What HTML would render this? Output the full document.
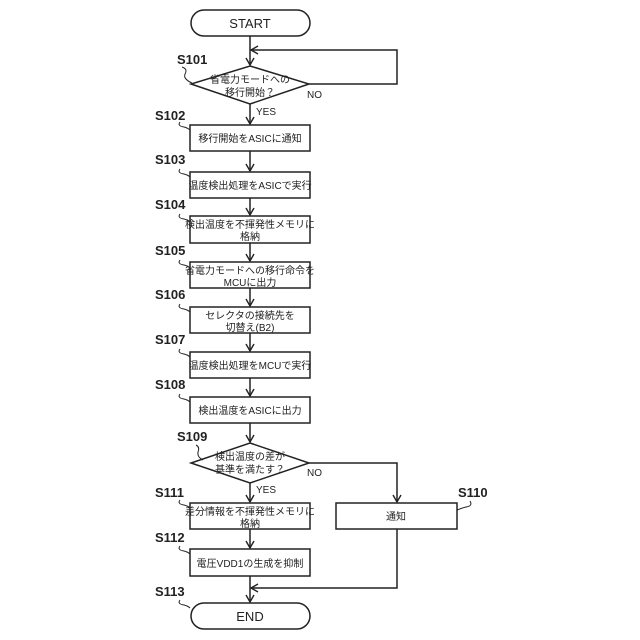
<!DOCTYPE html>
<html><head><meta charset="utf-8"><style>
html,body{margin:0;padding:0;background:#fff}
svg{display:block}
text{font-family:"Liberation Sans","Noto Sans CJK JP",sans-serif;fill:#222}
.t{font-size:10px;text-anchor:middle}
.l{font-size:13px;font-weight:bold}
.y{font-size:10px}
</style></head><body>
<svg width="640" height="640" viewBox="0 0 640 640" xmlns="http://www.w3.org/2000/svg">
<defs><marker id="a" markerWidth="10" markerHeight="10" refX="8" refY="5" orient="auto" markerUnits="userSpaceOnUse"><path d="M1,1 L8,5 L1,9" fill="none" stroke="#222" stroke-width="1.4"/></marker></defs>
<g fill="none" stroke="#222" stroke-width="1.5">
<rect x="191" y="10" width="119" height="26" rx="13"/>
<rect x="191" y="603" width="119" height="26" rx="13"/>
<polygon points="250,66 309,84 250,104 191,84"/>
<polygon points="250,443 309,463 250,483 191,463"/>
<rect x="190" y="125" width="120" height="26"/>
<rect x="190" y="172" width="120" height="26"/>
<rect x="190" y="216" width="120" height="27"/>
<rect x="190" y="262" width="120" height="26"/>
<rect x="190" y="307" width="120" height="26"/>
<rect x="190" y="352" width="120" height="26"/>
<rect x="190" y="397" width="120" height="26"/>
<rect x="190" y="503" width="120" height="26"/>
<rect x="190" y="549" width="120" height="27"/>
<rect x="336" y="503" width="121" height="26"/>
<path d="M250,36 V65" marker-end="url(#a)"/>
<path d="M309,84 H397 V50 H251" marker-end="url(#a)"/>
<path d="M250,104 V124" marker-end="url(#a)"/>
<path d="M250,151 V171" marker-end="url(#a)"/>
<path d="M250,198 V215" marker-end="url(#a)"/>
<path d="M250,243 V261" marker-end="url(#a)"/>
<path d="M250,288 V306" marker-end="url(#a)"/>
<path d="M250,333 V351" marker-end="url(#a)"/>
<path d="M250,378 V396" marker-end="url(#a)"/>
<path d="M250,423 V442" marker-end="url(#a)"/>
<path d="M250,483 V502" marker-end="url(#a)"/>
<path d="M250,529 V548" marker-end="url(#a)"/>
<path d="M250,576 V602" marker-end="url(#a)"/>
<path d="M309,463 H397 V502" marker-end="url(#a)"/>
<path d="M397,529 V588 H251" marker-end="url(#a)"/>
<g stroke-width="1">
<path d="M182,67 q6,2 3,7 q-2,5 7,9"/>
<path d="M180,122 q-3,4 4,5 q4,1 6,3"/>
<path d="M180,169 q-3,4 4,5 q4,1 6,3"/>
<path d="M180,214 q-3,4 4,5 q4,1 6,3"/>
<path d="M180,260 q-3,4 4,5 q4,1 6,3"/>
<path d="M180,304 q-3,4 4,5 q4,1 6,3"/>
<path d="M180,349 q-3,4 4,5 q4,1 6,3"/>
<path d="M180,394 q-3,4 4,5 q4,1 6,3"/>
<path d="M196,445 q4,2 2,7 q-1,5 5,8"/>
<path d="M180,500 q-3,4 4,5 q4,1 6,3"/>
<path d="M180,546 q-3,4 4,5 q4,1 6,3"/>
<path d="M180,600 q-3,4 4,5 q4,1 6,3"/>
<path d="M470,501 q3,5 -4,6 q-4,1 -9,3"/>
</g></g>
<text x="250" y="28" style="font-size:13px;text-anchor:middle">START</text>
<text x="250" y="621" style="font-size:13px;text-anchor:middle">END</text>
<text class="t" x="250" y="83">省電力モードへの</text>
<text class="t" x="250" y="96">移行開始？</text>
<text class="t" x="250" y="142">移行開始をASICに通知</text>
<text class="t" x="250" y="189">温度検出処理をASICで実行</text>
<text class="t" x="250" y="228">検出温度を不揮発性メモリに</text>
<text class="t" x="250" y="240">格納</text>
<text class="t" x="250" y="274">省電力モードへの移行命令を</text>
<text class="t" x="250" y="286">MCUに出力</text>
<text class="t" x="250" y="319">セレクタの接続先を</text>
<text class="t" x="250" y="331">切替え(B2)</text>
<text class="t" x="250" y="369">温度検出処理をMCUで実行</text>
<text class="t" x="250" y="414">検出温度をASICに出力</text>
<text class="t" x="250" y="460">検出温度の差が</text>
<text class="t" x="250" y="473">基準を満たす？</text>
<text class="t" x="250" y="515">差分情報を不揮発性メモリに</text>
<text class="t" x="250" y="527">格納</text>
<text class="t" x="250" y="567">電圧VDD1の生成を抑制</text>
<text class="t" x="396" y="520">通知</text>
<text class="y" x="307" y="98">NO</text>
<text class="y" x="256" y="115">YES</text>
<text class="y" x="307" y="476">NO</text>
<text class="y" x="256" y="493">YES</text>
<text class="l" x="177" y="64">S101</text>
<text class="l" x="155" y="120">S102</text>
<text class="l" x="155" y="164">S103</text>
<text class="l" x="155" y="209">S104</text>
<text class="l" x="155" y="255">S105</text>
<text class="l" x="155" y="299">S106</text>
<text class="l" x="155" y="344">S107</text>
<text class="l" x="155" y="389">S108</text>
<text class="l" x="177" y="441">S109</text>
<text class="l" x="155" y="497">S111</text>
<text class="l" x="155" y="542">S112</text>
<text class="l" x="155" y="596">S113</text>
<text class="l" x="458" y="497">S110</text>
</svg>
</body></html>
